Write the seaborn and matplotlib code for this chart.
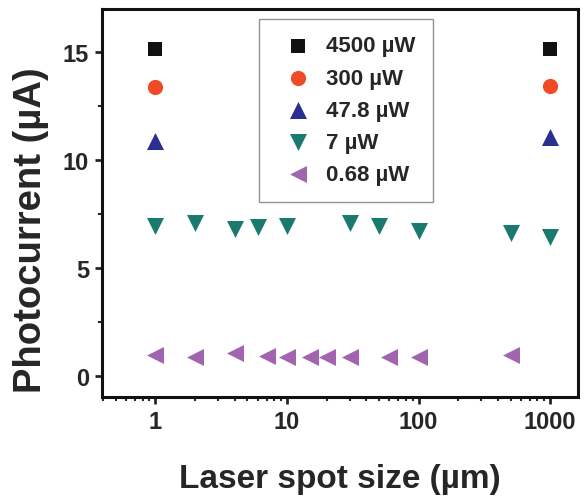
import pandas as pd
import matplotlib.pyplot as plt
import seaborn as sns
from matplotlib.ticker import LogLocator, MultipleLocator, FixedLocator

# Laser spot sizes (um) and photocurrent (uA) for each laser power
spot_4500 = [1, 1000]
current_4500 = [15.15, 15.15]

spot_300 = [1, 1000]
current_300 = [13.4, 13.45]

spot_47_8 = [1, 1000]
current_47_8 = [10.9, 11.05]

spot_7 = [1, 2, 4, 6, 10, 30, 50, 100, 500, 1000]
current_7 = [6.94, 7.09, 6.78, 6.88, 6.94, 7.09, 6.94, 6.71, 6.59, 6.41]

spot_068 = [1, 2, 4, 7, 10, 15, 20, 30, 60, 100, 500]
current_068 = [0.97, 0.88, 1.04, 0.9, 0.88, 0.88, 0.86, 0.87, 0.86, 0.84, 0.93]

x_ticks = [1, 10, 100, 1000]
x_tick_labels = ["1", "10", "100", "1000"]


def main():
    sns.set_style("ticks")
    plt.rcParams["font.family"] = ["Liberation Sans", "DejaVu Sans"]
    plt.rcParams["font.weight"] = "bold"

    fig = plt.figure(figsize=(5.84, 5.02), dpi=100)
    ax = fig.add_axes([0.174, 0.207, 0.816, 0.773])

    series = [
        (spot_4500, current_4500, "4500 µW", "s", "#111111", 90),
        (spot_300, current_300, "300 µW", "o", "#ef4b26", 120),
        (spot_47_8, current_47_8, "47.8 µW", "^", "#2b2f8f", 150),
        (spot_7, current_7, "7 µW", "v", "#1a7a6e", 150),
        (spot_068, current_068, "0.68 µW", "<", "#a065ae", 150),
    ]

    for x, y, label, marker, color, size in series:
        df = pd.DataFrame({"spot": x, "current": y})
        sns.scatterplot(
            data=df,
            x="spot",
            y="current",
            marker=marker,
            color=color,
            s=size,
            linewidth=0,
            label=label,
            ax=ax,
        )

    ax.set_xscale("log")
    ax.set_xlim(0.39, 1630)
    ax.set_ylim(-1, 17)

    ax.xaxis.set_major_locator(FixedLocator(x_ticks))
    ax.set_xticklabels(x_tick_labels)
    ax.xaxis.set_minor_locator(LogLocator(base=10, subs=range(2, 10)))
    ax.xaxis.set_minor_formatter(plt.NullFormatter())
    ax.yaxis.set_major_locator(MultipleLocator(5))
    ax.yaxis.set_minor_locator(MultipleLocator(2.5))

    ax.tick_params(which="major", direction="out", length=5, width=2,
                   labelsize=17, pad=4)
    ax.tick_params(which="minor", direction="out", length=3, width=1.5)
    for label in ax.get_xticklabels() + ax.get_yticklabels():
        label.set_fontweight("bold")

    for spine in ax.spines.values():
        spine.set_linewidth(2.2)
        spine.set_color("#111111")

    ax.set_xlabel("Laser spot size (µm)", fontsize=24, fontweight="bold",
                  labelpad=22)
    ax.set_ylabel("Photocurrent (µA)", fontsize=27.5, fontweight="bold")
    ax.yaxis.set_label_coords(-0.11, 0.433)

    legend = ax.legend(
        loc="upper center",
        bbox_to_anchor=(0.512, 0.975),
        borderaxespad=0,
        fontsize=16,
        frameon=True,
        fancybox=False,
        labelspacing=0.5,
        handletextpad=0.3,
        borderpad=0.75,
    )
    legend.get_frame().set_edgecolor("#777777")
    legend.get_frame().set_linewidth(1)
    for text in legend.get_texts():
        text.set_fontweight("bold")

    plt.savefig("out.png", dpi=100)
    plt.close()


if __name__ == "__main__":
    main()
